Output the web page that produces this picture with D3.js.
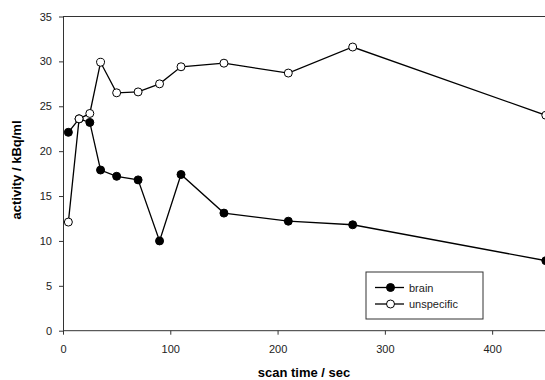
<!DOCTYPE html>
<html>
<head>
<meta charset="utf-8">
<script src="https://cdn.jsdelivr.net/npm/d3@7"></script>
<style>
  body { margin: 0; background: #fff; }
  svg { display: block; font-family: Arial, "Liberation Sans", sans-serif; }
</style>
</head>
<body>
<div id="chart"></div>
<script>
// scan times (sec)
var times = [5, 15, 25, 35, 50, 70, 90, 110, 150, 210, 270, 450];
var brain = [22.1, 23.6, 23.2, 17.9, 17.2, 16.8, 10.0, 17.4, 13.1, 12.2, 11.8, 7.8];
var unspecific = [12.1, 23.6, 24.2, 29.9, 26.5, 26.6, 27.5, 29.4, 29.8, 28.7, 31.6, 24.0];
var xTicks = [0, 100, 200, 300, 400];
var yTicks = [0, 5, 10, 15, 20, 25, 30, 35];

var W = 545, H = 380;
var margin = {top: 16.5, left: 63, bottom: 49.3};

var svg = d3.select("#chart").append("svg")
  .attr("width", W)
  .attr("height", H);

var x = d3.scaleLinear().domain([0, 450]).range([margin.left, 545.8]);
var y = d3.scaleLinear().domain([0, 35]).range([H - margin.bottom, margin.top]);

// frame: top line
svg.append("line")
  .attr("x1", x(0)).attr("x2", W)
  .attr("y1", y(35)).attr("y2", y(35))
  .attr("stroke", "#333").attr("stroke-width", 1);

// x axis
var gx = svg.append("g")
  .attr("transform", "translate(0," + y(0) + ")")
  .call(d3.axisBottom(x).tickValues(xTicks).tickSize(4).tickSizeOuter(0).tickPadding(10.5));
gx.select(".domain").attr("d", "M" + x(0) + ",0H" + W);

// y axis
var gy = svg.append("g")
  .attr("transform", "translate(" + x(0) + ",0)")
  .call(d3.axisLeft(y).tickValues(yTicks).tickSize(4).tickSizeOuter(0).tickPadding(7));

svg.selectAll(".domain, .tick line").attr("stroke", "#333");
svg.selectAll(".tick text").attr("font-size", 11).attr("fill", "#222")
  .attr("font-family", "Arial, 'Liberation Sans', sans-serif");

// axis titles
svg.append("text")
  .attr("x", (x(0) + W) / 2).attr("y", 377)
  .attr("text-anchor", "middle")
  .attr("font-size", 13).attr("font-weight", "bold")
  .text("scan time / sec");

svg.append("text")
  .attr("transform", "translate(21," + 170 + ") rotate(-90)")
  .attr("text-anchor", "middle")
  .attr("font-size", 13).attr("font-weight", "bold")
  .text("activity / kBq/ml");

var line = d3.line()
  .x(function(d) { return x(d[0]); })
  .y(function(d) { return y(d[1]); });

function drawSeries(vals, fill) {
  var pts = times.map(function(t, i) { return [t, vals[i]]; });
  svg.append("path")
    .datum(pts)
    .attr("d", line)
    .attr("fill", "none")
    .attr("stroke", "#000")
    .attr("stroke-width", 1.3);
  svg.selectAll(null)
    .data(pts)
    .enter()
    .append("circle")
    .attr("cx", function(d) { return x(d[0]); })
    .attr("cy", function(d) { return y(d[1]); })
    .attr("r", 4)
    .attr("fill", fill)
    .attr("stroke", "#000")
    .attr("stroke-width", 1);
}

drawSeries(brain, "#000");
drawSeries(unspecific, "#fff");

// legend
var lg = svg.append("g").attr("transform", "translate(366,272)");
lg.append("rect")
  .attr("width", 117).attr("height", 47)
  .attr("fill", "#fff").attr("stroke", "#333").attr("stroke-width", 1);

var legendItems = [["brain", "#000"], ["unspecific", "#fff"]];
legendItems.forEach(function(it, i) {
  var yy = 15.5 + i * 16.5;
  lg.append("line")
    .attr("x1", 9).attr("x2", 38)
    .attr("y1", yy).attr("y2", yy)
    .attr("stroke", "#000").attr("stroke-width", 1.3);
  lg.append("circle")
    .attr("cx", 24.5).attr("cy", yy).attr("r", 4)
    .attr("fill", it[1]).attr("stroke", "#000");
  lg.append("text")
    .attr("x", 43).attr("y", yy + 4)
    .attr("font-size", 11).attr("fill", "#222")
    .text(it[0]);
});
</script>
</body>
</html>
